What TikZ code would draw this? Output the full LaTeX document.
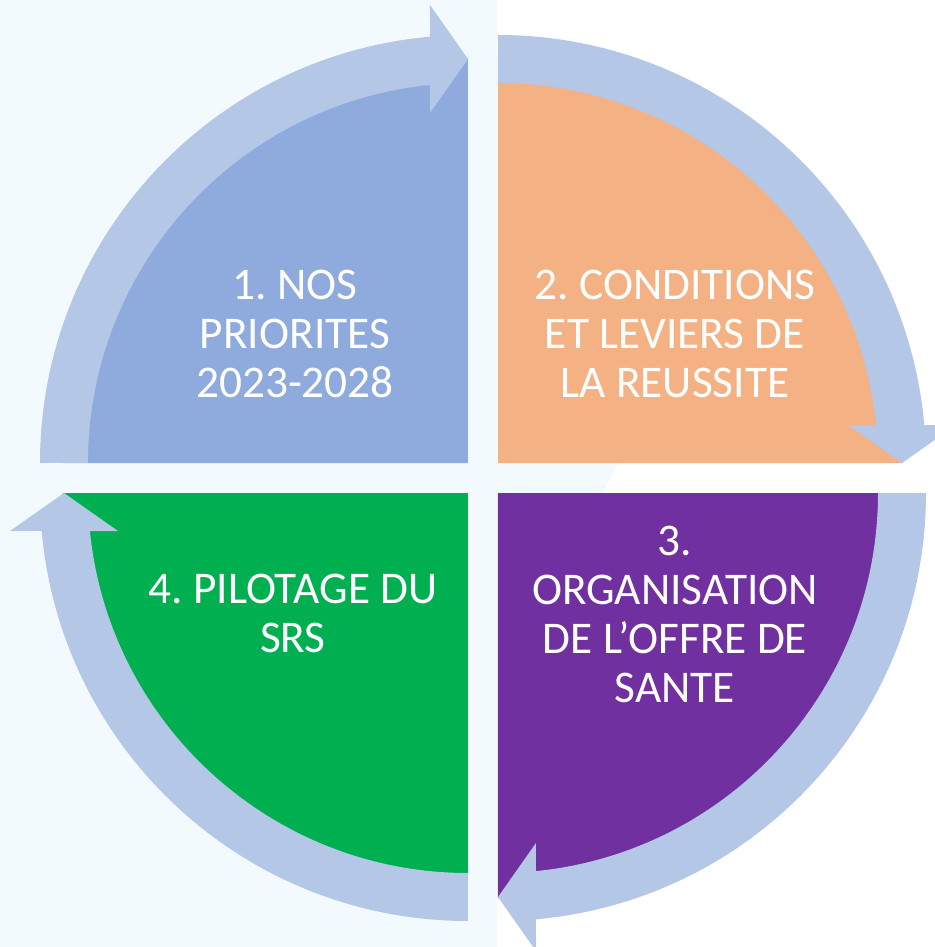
\documentclass[tikz,border=0pt]{standalone}
\usepackage{fontspec}
\setmainfont{Carlito}
\definecolor{ringblue}{HTML}{B4C7E7}
\definecolor{paleback}{HTML}{F3FAFE}
\definecolor{qone}{HTML}{8FAADC}
\definecolor{qtwo}{HTML}{F4B183}
\definecolor{qthree}{HTML}{7030A0}
\definecolor{qfour}{HTML}{00B050}
\tikzset{
  quad/.pic={\fill[pic actions] (0,0) -- (-405,0) arc[start angle=180,end angle=90,radius=405] -- cycle;},
  cyclearrow/.pic={\fill[ringblue] (-428,0) arc[start angle=180,end angle=95.094,radius=428]
     -- (-38,458) -- (0,404) -- (-38,350) -- (-38,378.1)
     arc[start angle=95.739,end angle=180,radius=380] -- cycle;},
  lbl/.style={text=white, align=center, inner sep=0pt, font=\frenchspacing\fontsize{25.8}{27.9}\selectfont}
}
\frenchspacing
\begin{document}
\begin{tikzpicture}[x=0.02cm,y=0.02cm]
\useasboundingbox (-483,-469) rectangle (452,478);
\fill[white] (-483,-469) rectangle (452,478);
\fill[paleback] (-483,-469) rectangle (14,478);
\fill[paleback] (14,15) -- (135,15) -- (120,-15) -- (14,-15) -- cycle;
% quadrants
\pic[fill=qone] at (-15,15) {quad};
\pic[fill=qtwo,rotate=-90] at (15,15) {quad};
\pic[fill=qthree,rotate=180] at (15,-15) {quad};
\pic[fill=qfour,rotate=90] at (-15,-15) {quad};
% cycle arrows
\pic at (-15,15) {cyclearrow};
\pic[rotate=-90] at (15,15) {cyclearrow};
\pic[rotate=180] at (15,-15) {cyclearrow};
\pic[rotate=90] at (-15,-15) {cyclearrow};
% labels
\node[lbl] (t1) at (-188,144.5) {1. NOS\\PRIORITES\\2023-2028};
\node[lbl] (t2) at (192,144.5) {2. CONDITIONS\\ET LEVIERS DE\\LA REUSSITE};
\node[lbl] (t3) at (192,-136) {3.\\ORGANISATION\\DE L’OFFRE DE\\SANTE};
\node[lbl] (t4) at (-190,-135) {4. PILOTAGE DU\\SRS};
\end{tikzpicture}
\end{document}
